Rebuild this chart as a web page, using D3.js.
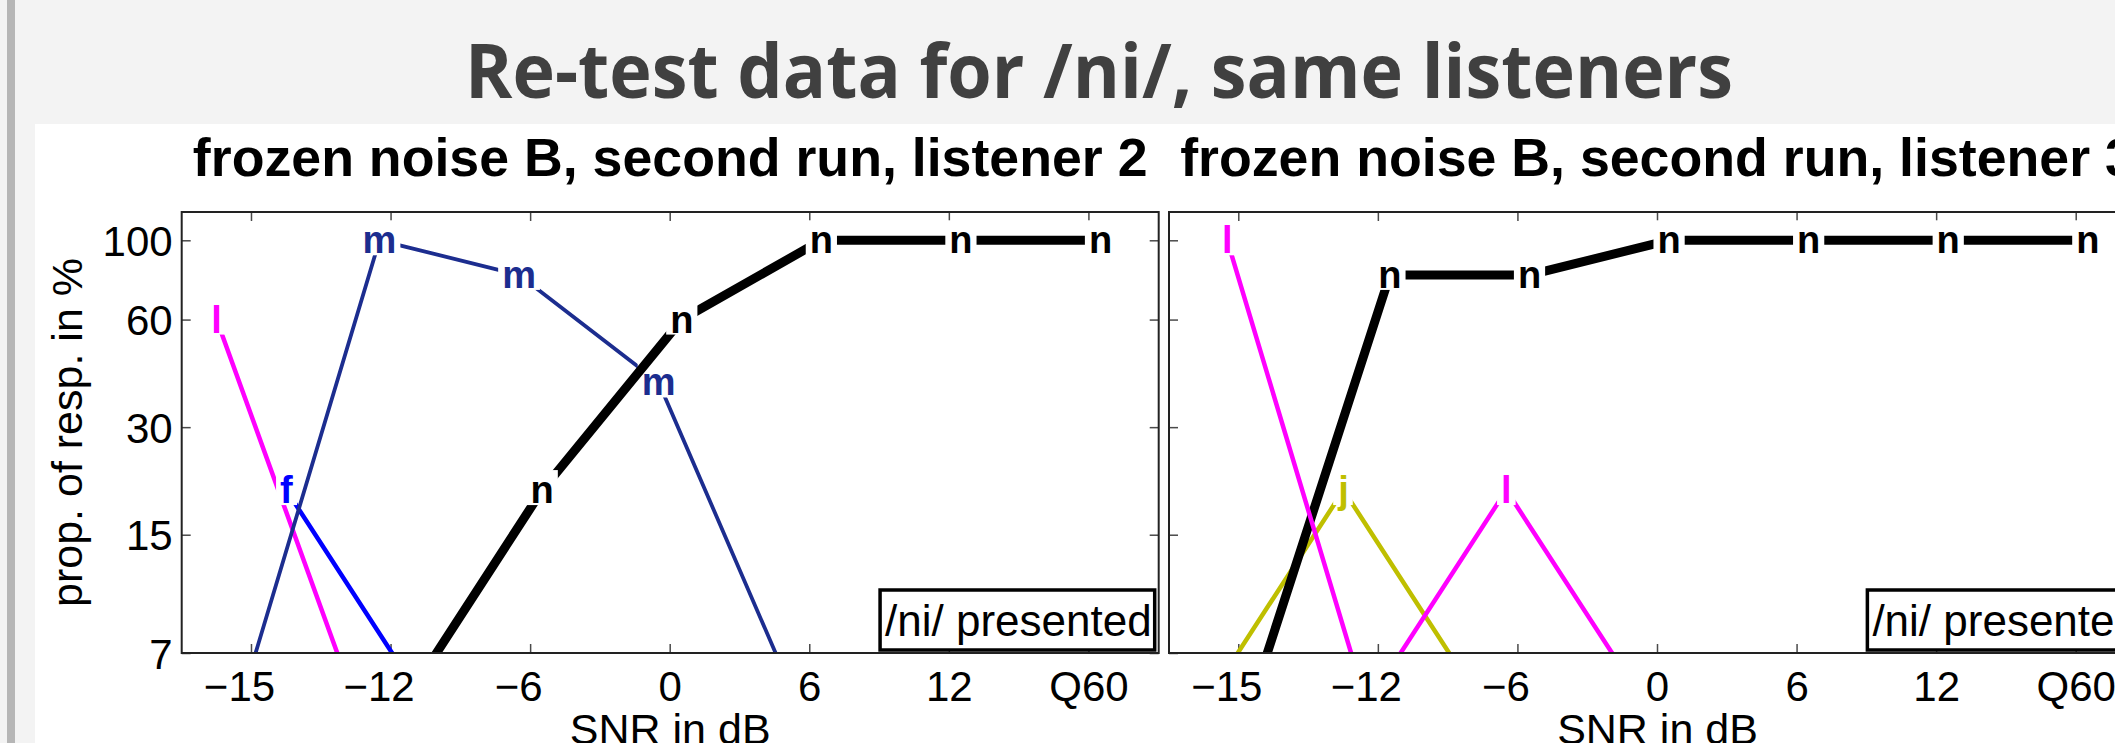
<!DOCTYPE html>
<html><head><meta charset="utf-8">
<script src="https://cdn.jsdelivr.net/npm/d3@7"></script>
<style>
html,body{margin:0;padding:0;background:#f3f3f3;overflow:hidden;}
svg{display:block;}
</style></head><body>
<svg id="chart" width="2115" height="743"></svg>
<script>
// ---------------- data ----------------
const snrCategories = ["−15","−12","−6","0","6","12","Q60"];
const yTickValues = [7, 15, 30, 60, 100];
const mainTitle = "Re-test data for /ni/, same listeners";
const panelTitles = ["frozen noise B, second run, listener 2", "frozen noise B, second run, listener 3"];
const xAxisLabel = "SNR in dB";
const yAxisLabel = "prop. of resp. in %";
const legendLabel = "/ni/ presented";

// listener 2: proportion of responses in % per SNR (0 = letter never chosen)
const l2Letters = ["l", "f", "m", "n"];
const l2_l = [60, 0, 0, 0, 0, 0, 0];
const l2_f = [20, 0, 0, 0, 0, 0, 0];
const l2_m = [0, 100, 80, 40, 0, 0, 0];
const l2_n = [0, 0, 20, 60, 100, 100, 100];

// listener 3
const l3Letters = ["j", "n", "l"];
const l3_j = [0, 20, 0, 0, 0, 0, 0];
const l3_n = [0, 80, 80, 100, 100, 100, 100];
const l3_l = [100, 0, 20, 0, 0, 0, 0];

// ---------------- styles / layout ----------------
const letterStyle = {
  n: {color: "#000000", width: 9},
  m: {color: "#1c2d8f", width: 3.8},
  l: {color: "#ff00ff", width: 4.5},
  f: {color: "#0000ff", width: 4.5},
  j: {color: "#bfbf00", width: 4.5}
};
const zeroPlotValue = 5;   // zero responses are drawn below the axis floor
const panels = [
  {x0: 181.7, x1: 1158.7, letters: l2Letters, values: [l2_l, l2_f, l2_m, l2_n],
   jitter: {l: -0.25, f: 0.25, m: -0.083, n: 0.083}, title: panelTitles[0], yLabels: true},
  {x0: 1169, x1: 2146, letters: l3Letters, values: [l3_j, l3_n, l3_l],
   jitter: {j: -0.25, l: -0.083, n: 0.083}, title: panelTitles[1], yLabels: false}
];
const plotTop = 212, plotBottom = 653;
const sans = "'Liberation Sans', Arial, Helvetica, sans-serif";

const svg = d3.select("#chart");

// slide background
svg.append("rect").attr("x", 0).attr("y", 0).attr("width", 2115).attr("height", 743).attr("fill", "#f3f3f3");
svg.append("rect").attr("x", 7).attr("y", 0).attr("width", 8).attr("height", 743).attr("fill", "#b6b6b6");
svg.append("rect").attr("x", 35).attr("y", 124).attr("width", 2080).attr("height", 619).attr("fill", "#ffffff");

// main title
svg.append("text")
  .attr("x", 465).attr("y", 98)
  .attr("font-family", "'Open Sans', 'Noto Sans', sans-serif")
  .attr("font-weight", 700).attr("font-size", 76)
  .attr("fill", "#404040")
  .attr("textLength", 1268).attr("lengthAdjust", "spacingAndGlyphs")
  .text(mainTitle);

const y = d3.scaleLog().domain([7, 120]).range([plotBottom, plotTop]);

panels.forEach((p, pi) => {
  const g = svg.append("g");
  const x = d3.scaleBand().domain(snrCategories).range([p.x0, p.x1]).paddingInner(0).paddingOuter(0);
  const bw = x.bandwidth();

  const clipId = "clip" + pi;
  g.append("clipPath").attr("id", clipId).append("rect")
    .attr("x", p.x0).attr("y", plotTop).attr("width", p.x1 - p.x0).attr("height", plotBottom - plotTop);

  // axes ticks (inward)
  const tickCol = "#4a4a4a";
  const axB = g.append("g").attr("transform", `translate(0,${plotBottom})`)
    .call(d3.axisBottom(x).tickSize(-9).tickPadding(0));
  axB.selectAll("text")
    .attr("y", 48).attr("dy", 0)
    .attr("dx", d => d.startsWith("−") ? -12 : 0)
    .attr("font-family", sans).attr("font-size", 42).attr("fill", "#000");
  const axT = g.append("g").attr("transform", `translate(0,${plotTop})`)
    .call(d3.axisTop(x).tickSize(-9).tickFormat(""));
  const axL = g.append("g").attr("transform", `translate(${p.x0},0)`)
    .call(d3.axisLeft(y).tickValues(yTickValues).tickSize(-9).tickPadding(9)
      .tickFormat(p.yLabels ? (d => String(d)) : ""));
  axL.selectAll("text").attr("font-family", sans).attr("font-size", 42).attr("fill", "#000").attr("dy", "0.36em");
  const axR = g.append("g").attr("transform", `translate(${p.x1},0)`)
    .call(d3.axisRight(y).tickValues(yTickValues).tickSize(-9).tickFormat(""));
  [axB, axT, axL, axR].forEach(a => {
    a.select(".domain").remove();
    a.selectAll("line").attr("stroke", tickCol).attr("stroke-width", 1.5);
  });

  // series
  p.letters.forEach((letter, si) => {
    const st = letterStyle[letter];
    const jit = p.jitter[letter];
    const pts = p.values[si].map((v, i) => ({
      v, px: x(snrCategories[i]) + bw * (0.5 + jit), py: y(v > 0 ? v : zeroPlotValue)
    }));
    const line = d3.line().x(d => d.px).y(d => d.py);
    g.append("path").datum(pts)
      .attr("clip-path", `url(#${clipId})`)
      .attr("d", line).attr("fill", "none")
      .attr("stroke", st.color).attr("stroke-width", st.width)
      .attr("stroke-linejoin", "miter");

    const lg = g.append("g");
    pts.filter(d => d.v > 0).forEach(d => {
      const t = lg.append("text")
        .attr("x", d.px).attr("y", d.py + 13)
        .attr("text-anchor", "middle")
        .attr("font-family", sans).attr("font-weight", 700).attr("font-size", 38)
        .attr("fill", st.color).text(letter);
      const bb = t.node().getBBox();
      lg.insert("rect", "text")
        .attr("x", bb.x - 4).attr("width", bb.width + 8)
        .attr("y", d.py - 20).attr("height", 35)
        .attr("fill", "#ffffff");
    });
  });

  // box
  g.append("rect").attr("x", p.x0).attr("y", plotTop)
    .attr("width", p.x1 - p.x0).attr("height", plotBottom - plotTop)
    .attr("fill", "none").attr("stroke", "#222").attr("stroke-width", 2);

  // legend box
  const legT = g.append("text")
    .attr("x", p.x1 - 7).attr("y", plotBottom - 17)
    .attr("text-anchor", "end")
    .attr("font-family", sans).attr("font-size", 44).attr("fill", "#000")
    .text(legendLabel);
  const lb = legT.node().getBBox();
  g.insert("rect", () => legT.node())
    .attr("x", lb.x - 5).attr("y", plotBottom - 63)
    .attr("width", lb.width + 8).attr("height", 60)
    .attr("fill", "#fff").attr("stroke", "#000").attr("stroke-width", 3.5);

  // titles and labels
  const cx = (p.x0 + p.x1) / 2;
  g.append("text").attr("x", cx).attr("y", 176)
    .attr("text-anchor", "middle").attr("font-family", sans)
    .attr("font-weight", 700).attr("font-size", 53.7).attr("fill", "#000")
    .text(p.title);
  g.append("text").attr("x", cx).attr("y", 744)
    .attr("text-anchor", "middle").attr("font-family", sans)
    .attr("font-size", 43).attr("fill", "#000")
    .text(xAxisLabel);
  if (p.yLabels) {
    g.append("text")
      .attr("transform", `translate(82,${(plotTop + plotBottom) / 2}) rotate(-90)`)
      .attr("text-anchor", "middle").attr("font-family", sans)
      .attr("font-size", 43).attr("fill", "#000")
      .text(yAxisLabel);
  }
});
</script>
</body></html>
